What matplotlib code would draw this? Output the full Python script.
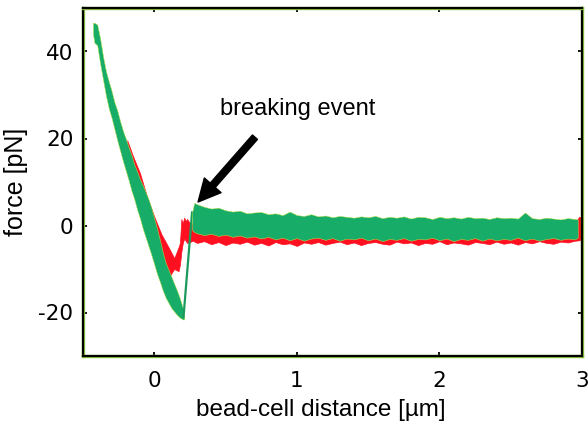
import numpy as np
import matplotlib
matplotlib.use('Agg')
import matplotlib.pyplot as plt
import matplotlib.patheffects as pe

# green trace, approach down to the minimum (x in um, band edges in pN)
g_down_x = [-0.43, -0.42, -0.40, -0.38, -0.36, -0.34, -0.32, -0.30, -0.28, -0.26,
            -0.24, -0.22, -0.20, -0.18, -0.16, -0.14, -0.12, -0.10, -0.08, -0.06,
            -0.04, -0.02, 0.00, 0.02, 0.04, 0.06, 0.08, 0.10, 0.12, 0.14,
            0.16, 0.18, 0.20, 0.21]
g_down_hi = [46.6, 46.6, 46.2, 43.0, 39.0, 35.6, 33.2, 31.0, 28.4, 26.5,
             24.0, 21.8, 20.0, 18.0, 16.2, 14.0, 12.4, 10.6, 9.2, 7.6,
             6.0, 4.0, 1.6, -0.8, -3.4, -6.2, -8.6, -10.2, -11.8, -13.4,
             -15.0, -16.8, -19.0, -21.0]
g_down_lo = [44.0, 42.0, 41.4, 37.2, 33.6, 30.0, 27.0, 24.8, 22.2, 19.6,
             17.2, 14.8, 12.6, 10.4, 8.0, 6.0, 3.6, 1.6, -0.8, -2.8,
             -4.8, -6.8, -9.0, -11.2, -13.0, -15.0, -16.6, -17.8, -19.0, -19.8,
             -20.6, -21.2, -21.6, -21.6]

# green jump after the bond breaks
g_jump_x = [0.205, 0.265]
g_jump_y = [-21.0, 3.0]

# green trace after the break
g_flat_x = [0.265, 0.28, 0.30, 0.35, 0.40, 0.45, 0.50, 0.55, 0.60, 0.65,
            0.70, 0.75, 0.80, 0.85, 0.90, 0.95, 1.00, 1.05, 1.10, 1.15,
            1.20, 1.25, 1.30, 1.35, 1.40, 1.45, 1.50, 1.55, 1.60, 1.65,
            1.70, 1.75, 1.80, 1.85, 1.90, 1.95, 2.00, 2.05, 2.10, 2.15,
            2.20, 2.25, 2.30, 2.35, 2.40, 2.45, 2.50, 2.55, 2.60, 2.65,
            2.70, 2.75, 2.80, 2.85, 2.90, 2.95, 2.97]
g_flat_hi = [3.0, 5.2, 4.9, 4.3, 3.9, 4.1, 3.5, 3.2, 3.4, 2.8,
             3.0, 3.1, 2.6, 2.8, 2.4, 3.2, 2.4, 2.2, 2.6, 2.1,
             2.3, 1.9, 2.2, 2.0, 1.8, 2.1, 1.9, 2.2, 1.7, 2.0,
             1.8, 2.1, 1.6, 2.0, 1.9, 1.5, 2.0, 1.7, 1.9, 1.6,
             2.0, 1.7, 1.8, 1.5, 1.9, 1.7, 1.8, 1.6, 3.0, 1.7,
             1.5, 1.8, 1.6, 1.4, 1.7, 1.5, 1.4]
g_flat_lo = [-1.0, -1.5, -1.8, -2.2, -1.9, -2.4, -2.1, -2.6, -2.3, -2.8,
             -2.5, -3.0, -2.6, -3.2, -2.8, -3.4, -2.9, -3.5, -3.0, -2.8,
             -3.3, -2.9, -3.5, -3.0, -3.2, -2.8, -3.4, -3.0, -3.6, -3.1,
             -3.3, -2.9, -3.5, -3.1, -3.2, -2.8, -3.4, -3.0, -3.6, -3.1,
             -3.3, -2.9, -3.5, -3.0, -3.4, -3.1, -3.3, -2.8, -3.4, -3.0,
             -3.5, -3.1, -2.9, -3.3, -3.0, -3.2, -2.8]

# red trace
r_x = [-0.19, -0.15, -0.10, -0.05, 0.00, 0.05, 0.10, 0.14, 0.17, 0.18,
       0.19, 0.20, 0.21, 0.22, 0.23, 0.25, 0.27,
       0.30, 0.35, 0.40, 0.45, 0.50, 0.55, 0.60, 0.65, 0.70, 0.75,
       0.80, 0.85, 0.90, 0.95, 1.00, 1.05, 1.10, 1.15, 1.20, 1.25,
       1.30, 1.35, 1.40, 1.45, 1.50, 1.55, 1.60, 1.65, 1.70, 1.75,
       1.80, 1.85, 1.90, 1.95, 2.00, 2.05, 2.10, 2.15, 2.20, 2.25,
       2.30, 2.35, 2.40, 2.45, 2.50, 2.55, 2.60, 2.65, 2.70, 2.75,
       2.80, 2.85, 2.90, 2.95, 2.98, 3.00]
r_hi = [19.6, 16.0, 12.0, 6.5, 2.0, -2.0, -5.0, -7.5, -5.0, -4.0,
        1.5, 0.5, 1.8, 1.0, 1.5, 0.5, 0.5,
        0.6, 0.3, 0.8, 0.4, 0.7, 0.2, 0.6, 0.9, 0.3, 0.5,
        0.7, 0.4, 0.8, 0.3, 0.6, 0.5, 1.0, 0.4, 0.6, 0.3,
        0.7, 0.5, 0.4, 0.8, 0.3, 0.6, 0.5, 0.7, 0.4, 0.6,
        0.3, 0.8, 0.5, 0.4, 0.6, 0.7, 0.3, 0.5, 0.6, 0.4,
        0.7, 0.5, 0.3, 0.6, 0.4, 0.8, 0.5, 0.3, 0.6, 0.4,
        0.7, 0.5, 0.4, 0.6, 2.0, 1.8]
r_lo = [16.0, 8.0, 3.0, -2.0, -6.0, -10.0, -12.0, -10.0, -10.5, -9.0,
        -6.0, -4.0, -3.0, -3.5, -4.0, -3.8, -3.5,
        -4.0, -3.6, -4.3, -3.8, -4.5, -3.9, -4.2, -3.7, -4.4, -4.0,
        -4.6, -3.8, -4.3, -4.1, -4.7, -3.9, -4.2, -3.8, -4.4, -4.0,
        -3.7, -4.3, -3.9, -4.5, -4.0, -3.8, -4.2, -4.4, -3.7, -4.1,
        -3.9, -4.5, -4.0, -4.2, -3.6, -4.3, -3.9, -4.1, -4.4, -3.8,
        -4.0, -4.3, -3.7, -4.2, -3.9, -4.4, -3.8, -4.1, -3.6, -4.0,
        -4.2, -3.7, -3.9, -3.5, -3.4, -3.2]

x_ticks = [0, 1, 2, 3]
y_ticks = [-20, 0, 20, 40]

red = '#ff1020'
green = '#17ad68'
edge = '#b9e04a'

plt.rcParams['font.family'] = ['Liberation Sans', 'DejaVu Sans']
plt.rcParams['axes.unicode_minus'] = False

fig = plt.figure(figsize=(5.88, 4.25), dpi=100)
ax = fig.add_axes([83 / 588, 1 - 356 / 425, 499 / 588, 348 / 425])

ax.fill_between(r_x, r_lo, r_hi, color=red, lw=0.5, zorder=2)
ax.fill_between(g_down_x, g_down_lo, g_down_hi, facecolor=green,
                edgecolor=edge, lw=0.35, zorder=3)
ax.plot(g_jump_x, g_jump_y, color='#1a9a5c', lw=1.6, zorder=3)
ax.fill_between(g_flat_x, g_flat_lo, g_flat_hi, facecolor=green,
                edgecolor=edge, lw=0.35, zorder=3)

ax.set_xlim(-0.5, 3)
ax.set_ylim(-30, 50)
ax.set_xticks(x_ticks)
ax.set_yticks(y_ticks)
ax.tick_params(direction='in', length=3, width=1.3, top=True, right=True,
               labelsize=15.5, labelfontfamily='DejaVu Sans')
ax.tick_params(axis='x', pad=11)
ax.tick_params(axis='y', pad=7)

for sp in ax.spines.values():
    sp.set_linewidth(1.6)
    sp.set_color('black')
    sp.set_path_effects([pe.withStroke(linewidth=2.4, foreground='#8cc63f')])

ax.set_xlabel('bead-cell distance [µm]', fontsize=17.5)
ax.xaxis.set_label_coords(0.477, -0.124)
ax.set_ylabel('force [pN]', fontsize=18)
ax.yaxis.set_label_coords(-0.11, 0.5)

ax.text(0.46, 25.4, 'breaking event', fontsize=17, ha='left', va='baseline')
ax.annotate('', xy=(0.307, 5.4), xytext=(0.706, 20.3),
            arrowprops=dict(arrowstyle='simple,head_length=1,head_width=1,tail_width=0.3',
                            color='black', mutation_scale=16, shrinkA=0, shrinkB=0))

fig.savefig('out.png', dpi=100)
